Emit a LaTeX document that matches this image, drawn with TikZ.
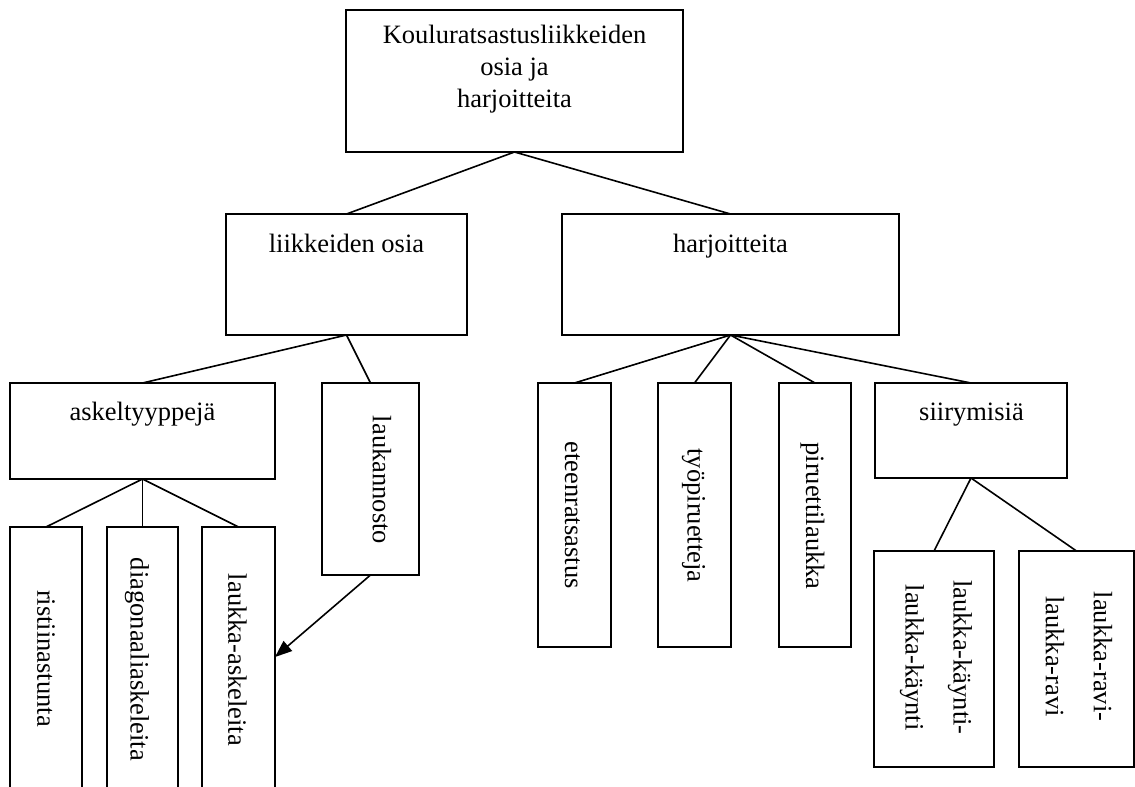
\documentclass[tikz,border=0pt]{standalone}
\usepackage{fontspec}
\setmainfont{Liberation Serif}
\usetikzlibrary{arrows.meta}
\tikzset{
  box/.style={draw=black, line width=1.6pt, inner sep=0pt, outer sep=0pt},
  txt/.style={inner sep=0pt, font=\fontsize{26.5}{32}\selectfont, align=center},
  vtxt/.style={txt, rotate=-90},
  vtxtwide/.style={inner sep=0pt, font=\fontsize{26.5}{48}\selectfont, align=center, rotate=-90},
  link/.style={line width=1.6pt, draw=black},
  arrowlink/.style={link, -{Triangle[length=17pt,width=13pt]}}
}
\begin{document}
\begin{tikzpicture}[x=1pt,y=-1pt]
\useasboundingbox (0,0) rectangle (1135,787);
\clip (0,0) rectangle (1135,787);
% boxes
\node[box, minimum width=337pt, minimum height=142pt] (root) at (514.5,81) {};
\node[box, minimum width=241pt, minimum height=121pt] (lo) at (346.5,274.5) {};
\node[box, minimum width=337pt, minimum height=121pt] (ha) at (730.5,274.5) {};
\node[box, minimum width=265pt, minimum height=96pt] (ak) at (142.5,431) {};
\node[box, minimum width=97pt, minimum height=192pt] (ln) at (370.5,479) {};
\node[box, minimum width=73pt, minimum height=264pt] (et) at (574.5,515) {};
\node[box, minimum width=73pt, minimum height=264pt] (ty) at (694.5,515) {};
\node[box, minimum width=72pt, minimum height=264pt] (pi) at (815,515) {};
\node[box, minimum width=192pt, minimum height=95pt] (si) at (971,430.5) {};
\node[box, minimum width=72pt, minimum height=266pt] (ri) at (46,660) {};
\node[box, minimum width=71pt, minimum height=266pt] (di) at (142.5,660) {};
\node[box, minimum width=73pt, minimum height=266pt] (la) at (238.5,660) {};
\node[box, minimum width=120pt, minimum height=216pt] (lk) at (934,659) {};
\node[box, minimum width=115pt, minimum height=216pt] (lr) at (1076.5,659) {};
% texts
\node[txt, anchor=north] (rootT) at (514.5,25) {Kouluratsastusliikkeiden\\osia ja\\harjoitteita};
\node[txt, anchor=base] (loT) at (346.5,252) {liikkeiden osia};
\node[txt, anchor=base] (haT) at (730.5,252) {harjoitteita};
\node[txt, anchor=base] (akT) at (142.5,420) {askeltyyppejä};
\node[txt, anchor=base] (siT) at (971.5,420) {siirymisiä};
\node[vtxt] (lnT) at (382,480) {laukannosto};
\node[vtxt] (etT) at (572.5,515) {eteenratsastus};
\node[vtxt] (tyT) at (693.5,515.5) {työpiruetteja};
\node[vtxt] (piT) at (812.5,516) {piruettilaukka};
\node[vtxt] (riT) at (46,658.5) {ristiinastunta};
\node[vtxt] (diT) at (137,659.5) {diagonaaliaskeleita};
\node[vtxt] (laT) at (237.5,660) {laukka-askeleita};
\node[vtxtwide] (lkT) at (936,657.5) {laukka-käynti-\\laukka-käynti};
\node[vtxtwide] (lrT) at (1079,656.5) {laukka-ravi-\\laukka-ravi};
% connectors
\draw[link] (root.south) -- (lo.north);
\draw[link] (root.south) -- (ha.north);
\draw[link] (lo.south) -- (ak.north);
\draw[link] (lo.south) -- (ln.north);
\draw[link] (ha.south) -- (et.north);
\draw[link] (ha.south) -- (ty.north);
\draw[link] (ha.south) -- (pi.north);
\draw[link] (ha.south) -- (si.north);
\draw[link] (ak.south) -- (ri.north);
\draw[link] (ak.south) -- (di.north);
\draw[link] (ak.south) -- (la.north);
\draw[link] (si.south) -- (lk.north);
\draw[link] (si.south) -- (lr.north);
\draw[arrowlink] (ln.south) -- ([yshift=3pt]la.east);
\end{tikzpicture}
\end{document}
